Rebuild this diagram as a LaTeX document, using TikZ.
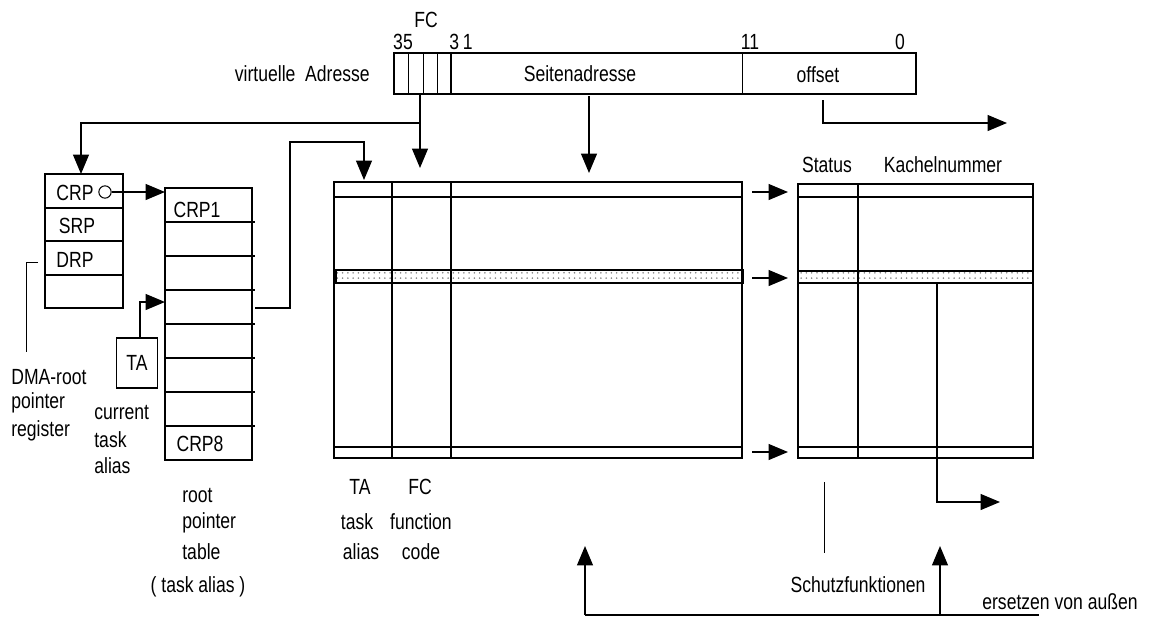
\documentclass[tikz,border=0pt]{standalone}
\usepackage{fontspec}
\setmainfont{Liberation Sans}[FakeStretch=0.8]
\usepackage{tikz}
\usetikzlibrary{arrows.meta, patterns, positioning}
\tikzset{
    lbl/.style={font=\fontsize{12.5}{14}\selectfont, inner sep=0pt},
    box/.style={draw, line width=0.9pt},
    wire/.style={draw, line width=0.9pt},
    hair/.style={draw, line width=0.45pt},
    link/.style={draw, line width=0.9pt, -{Triangle[length=11pt, width=9pt]}},
    band/.style={draw, line width=0.9pt, pattern=dots, pattern color=gray}
}

\begin{document}
\begin{tikzpicture}[x=0.02cm, y=-0.02cm]
    \useasboundingbox (0,0) rectangle (1154,626);

    % virtual address register
    \draw[box] (394,53) rectangle (916,94);
    \foreach \x in {408,423,437,742} \draw[hair] (\x,53) -- (\x,94);
    \draw[wire] (451,53) -- (451,94);
    \node (vaname) [lbl, anchor=east] at (370,74) {virtuelle\ \ Adresse};
    \node (vapage) [lbl] at (580,74) {Seitenadresse};
    \node (vaoff) [lbl] at (818,75) {offset};
    \node (fcbits) [lbl] at (426,20) {FC};
    \node (bit35) [lbl] at (403,42) {35};
    \node (bit31) [lbl] at (461,42) {3\,1};
    \node (bit11) [lbl] at (750,42) {11};
    \node (bit0) [lbl] at (900,42) {0};
    \coordinate (fcout) at (420,94);
    \coordinate (fcsplit) at (420,123);
    \coordinate (pageout) at (589,96);
    \coordinate (offout) at (823,100);

    % DMA-root pointer register
    \draw[box] (45,174) rectangle (123,308);
    \foreach \y in {208,241,275} \draw[wire] (45,\y) -- (123,\y);
    \node (crp) [lbl] at (75,193) {CRP};
    \node (srp) [lbl] at (77,226) {SRP};
    \node (drp) [lbl] at (75,260) {DRP};
    \node (crpdot) [draw, circle, line width=0.6pt, inner sep=0pt, minimum size=7pt] at (105,192) {};
    \coordinate (regin) at (81,174);
    \draw[hair] (38,262) -- (26,262) -- (26,352);
    \node (dma1) [lbl, anchor=west] at (11,377) {DMA-root};
    \node (dma2) [lbl, anchor=west] at (11,403) {pointer};
    \node (dma3) [lbl, anchor=west] at (11,431) {register};

    % root pointer table
    \draw[box] (165,188) rectangle (252,460);
    \foreach \y in {222,256,...,426} \draw[wire] (165,\y) -- (255,\y);
    \node (crp1) [lbl] at (197,210) {CRP1};
    \node (crp8) [lbl] at (200,444) {CRP8};
    \coordinate (rptin) at (165,192);
    \coordinate (rptsel) at (165,302);
    \coordinate (rptout) at (255,308);
    \node (rpt1) [lbl, anchor=west] at (182,496) {root};
    \node (rpt2) [lbl, anchor=west] at (182,523) {pointer};
    \node (rpt3) [lbl, anchor=west] at (182,552) {table};
    \node (rpt4) [lbl] at (198,587) {( task alias )};

    % current task alias
    \node (ta) [box, lbl, minimum width=41*0.02cm, minimum height=50*0.02cm] at (137,363) {TA};
    \node (cta1) [lbl, anchor=west] at (94,413) {current};
    \node (cta2) [lbl, anchor=west] at (94,440) {task};
    \node (cta3) [lbl, anchor=west] at (94,466) {alias};

    % page descriptor table
    \draw[box] (334,182) rectangle (742,458);
    \draw[wire] (334,197) -- (742,197);
    \draw[wire] (334,447) -- (742,447);
    \draw[band] (336,270) rectangle (743,283);
    \foreach \x in {392,451} \draw[wire] (\x,182) -- (\x,458);
    \node (colta) [lbl] at (360,487) {TA};
    \node (colfc) [lbl] at (420,487) {FC};
    \node (colta2) [lbl] at (357,522) {task};
    \node (colfc2) [lbl] at (421,522) {function};
    \node (colta3) [lbl] at (361,552) {alias};
    \node (colfc3) [lbl] at (421,552) {code};
    \coordinate (pdtta) at (364,180);
    \coordinate (pdtfc) at (420,168);
    \coordinate (pdtpage) at (589,173);
    \coordinate (pdtrow1) at (752,192);
    \coordinate (pdtrowk) at (752,278);
    \coordinate (pdtrown) at (752,452);

    % frame table
    \draw[box] (798,184) rectangle (1033,458);
    \draw[wire] (798,197) -- (1033,197);
    \draw[wire] (798,447) -- (1033,447);
    \draw[band] (798,271) rectangle (1033,283);
    \draw[wire] (858,184) -- (858,458);
    \node (status) [lbl] at (827,165) {Status};
    \node (frame) [lbl] at (943,165) {Kachelnummer};
    \coordinate (ftrow1) at (788,192);
    \coordinate (ftrowk) at (788,278);
    \coordinate (ftrown) at (788,452);
    \coordinate (ftout) at (937,283);
    \draw[hair] (824,482) -- (824,553);
    \node (prot) [lbl] at (858,585) {Schutzfunktionen};

    % replacement from outside
    \coordinate (extl) at (585,615);
    \coordinate (extr) at (940,615);
    \coordinate (extend) at (1039,615);
    \node (ext) [lbl] at (1060,602) {ersetzen von außen};

    % connectors
    \draw[wire] (fcout) -- (fcsplit);
    \draw[link] (fcsplit) -| (regin);
    \draw[link] (fcsplit) -- (pdtfc);
    \draw[link] (pageout) -- (pdtpage);
    \draw[link] (offout) |- (1007,123);
    \draw[link] (crpdot) -- (rptin);
    \draw[link] (ta.north -| 140,0) |- (rptsel);
    \draw[link] (rptout) -| (290,142) -| (pdtta);
    \draw[link] (pdtrow1) -- (ftrow1);
    \draw[link] (pdtrowk) -- (ftrowk);
    \draw[link] (pdtrown) -- (ftrown);
    \draw[link] (ftout) |- (1000,502);
    \draw[wire] (extl) -- (extend);
    \draw[link] (extl) -- (585,546);
    \draw[link] (extr) -- (940,546);
\end{tikzpicture}
\end{document}
